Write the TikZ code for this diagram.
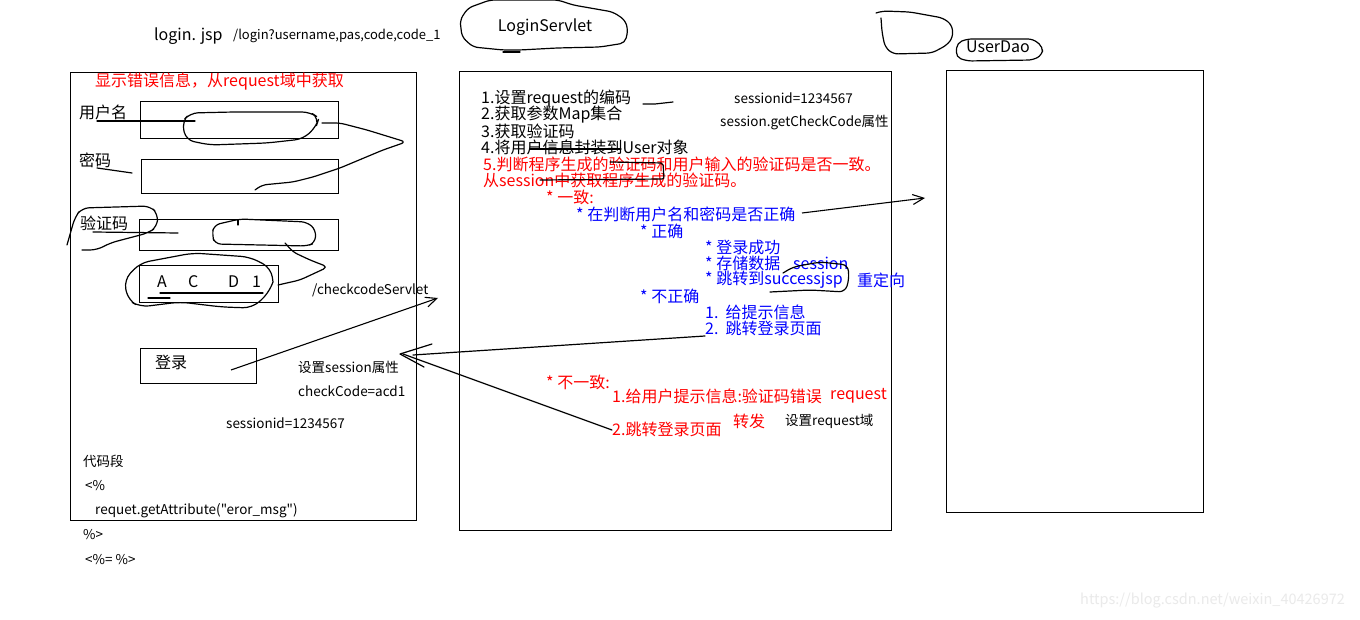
\documentclass[tikz,border=0pt]{standalone}
\usepackage{fontspec}
\newfontfamily\cjk{Noto Sans CJK SC}
\usetikzlibrary{arrows.meta}
\definecolor{pred}{RGB}{255,0,0}
\definecolor{pblue}{RGB}{0,0,255}
\definecolor{wmark}{RGB}{234,234,234}
\begin{document}
\begin{tikzpicture}[x=1pt,y=-1pt,
  frame/.style={draw=black,line width=1pt,anchor=north west,inner sep=0pt},
  sim/.style={font=\cjk\fontsize{16}{17}\selectfont,anchor=west,inner sep=0pt},
  sans/.style={font=\cjk\fontsize{13.5}{15}\selectfont,anchor=west,inner sep=0pt},
  rd/.style={text=pred},
  bl/.style={text=pblue},
  hand/.style={draw=black,line width=1.2pt,line join=round,line cap=round,rounded corners=5pt},
  arr/.style={draw=black,line width=1.1pt,-{Straight Barb[length=11pt,width=10pt,line width=1.1pt]}}]
\useasboundingbox (0,0) rectangle (1360,620);
\fill[white] (0,0) rectangle (1360,620);

% ---------- top labels ----------
\node[sim] (ljsp) at (154,36) {login. jsp};
\node[sans,font=\cjk\fontsize{13}{15}\selectfont] (lurl) at (233,36) {/login?username,pas,code,code\_1};
\node[sim,anchor=center] (lsv) at (545,27) {LoginServlet};
\draw[hand] (462,37) -- (460,20) -- (468,8) -- (490,0) -- (558,0) -- (573,5) -- (613,12) -- (625,20) -- (628,30) -- (625,43) -- (600,47) -- (557,48) -- (520,50) -- (503,50) -- (473,47) -- cycle;
\draw[hand] (503,52) -- (520,52);
\node[sim,anchor=center] (udao) at (998,47) {UserDao};
\draw[hand] (957,43) -- (967,39) -- (1033,39) -- (1043,47) -- (1042,55) -- (1033,60) -- (967,61) -- (956,57) -- cycle;
\draw[hand] (876,13) -- (883,11) -- (910,12) -- (943,18) -- (952,25) -- (953,37) -- (947,45) -- (932,53) -- (893,54) -- (885,47) -- (882,32) -- (881,18);

% ---------- three big boxes ----------
\node[frame,minimum width=346pt,minimum height=448pt] (jsp) at (70,72) {};
\node[frame,minimum width=432pt,minimum height=459pt] (servlet) at (459,71) {};
\node[frame,minimum width=257pt,minimum height=442pt] (dao) at (946,70) {};

% ---------- login.jsp contents ----------
\node[sim,rd] (errmsg) at (95,82) {显示错误信息，从request域中获取};
\node[sim] (lbuser) at (79,112) {用户名};
\node[frame,minimum width=198pt,minimum height=37pt] (inuser) at (140,101) {};
\node[sim] (lbpwd) at (79,160) {密码};
\node[frame,minimum width=197pt,minimum height=34pt] (inpwd) at (141,159) {};
\node[sim] (lbcode) at (80,223) {验证码};
\node[frame,minimum width=199pt,minimum height=31pt] (incode) at (139,219) {};
\node[frame,minimum width=139pt,minimum height=37pt] (captcha) at (139,265) {};
\node[sim] (ca) at (157,282) {A};
\node[sim] (cc) at (188,282) {C};
\node[sim] (cd) at (228,282) {D};
\node[sim] (c1) at (252,282) {1};
\node[sans] (ccs) at (312,290) {/checkcodeServlet};
\node[frame,minimum width=116pt,minimum height=35pt] (btn) at (140,348) {};
\node[sim] (btntxt) at (155,362) {登录};
\node[sans] (setsess) at (298,367) {设置session属性};
\node[sans] (ccval) at (298,391) {checkCode=acd1};
\node[sans] (sid1) at (226,423) {sessionid=1234567};
\node[sans] (dmd) at (83,461) {代码段};
\node[sans] (dm1) at (85,486) {<\%};
\node[sans] (dm2) at (95,511) {requet.getAttribute("eror\_msg")};
\node[sans] (dm3) at (83,535) {\%>};
\node[sans] (dm4) at (85,560) {<\%= \%>};

% freehand marks on the form
\draw[hand] (97,121) -- (195,121);
\draw[hand,rounded corners=8pt] (182,122) -- (190,113) -- (233,112) -- (310,112) -- (319,118) -- (316,127) -- (303,139) -- (267,143) -- (210,145) -- (186,140) -- cycle;
\draw[hand] (322,123) -- (340,123) -- (367,130) -- (406,142) -- (383,150) -- (340,168) -- (313,177) -- (293,182) -- (262,185) -- (255,190);
\draw[hand] (97,168) -- (132,173);
\draw[hand,rounded corners=7pt] (67,245) -- (75,217) -- (82,208) -- (150,206) -- (158,214) -- (157,227) -- (148,233) -- (110,243) -- (97,250) -- (82,250);
\draw[hand] (93,232) -- (178,233);
\draw[hand,rounded corners=6pt] (212,235) -- (214,225) -- (240,219) -- (307,222) -- (316,230) -- (315,243) -- (307,246) -- (215,244) -- cycle;
\draw[hand] (238,220) -- (238,225);
\draw[hand] (285,243) -- (293,252) -- (310,260) -- (328,267) -- (300,280) -- (278,285);
\draw[hand,rounded corners=9pt] (273,282) -- (271,268) -- (250,257) -- (193,253) -- (140,263) -- (124,280) -- (128,300) -- (140,307) -- (180,302) -- (222,307) -- (252,308) -- (268,294) -- (273,282);
\draw[hand] (160,293) -- (263,293);
\draw[hand] (148,298) -- (170,298);

% ---------- LoginServlet contents ----------
\node[sim] (s1) at (481,99)  {1.设置request的编码};
\node[sim] (s2) at (481,115) {2.获取参数Map集合};
\node[sim] (s3) at (481,131) {3.获取验证码};
\node[sim] (s4) at (481,147) {4.将用户信息封装到User对象};
\node[sim,rd] (s5) at (483,164) {5.判断程序生成的验证码和用户输入的验证码是否一致。};
\node[sim,rd] (s5b) at (483,180) {从session中获取程序生成的验证码。};
\node[sans] (sid2) at (734,98) {sessionid=1234567};
\node[sans] (getcc) at (720,123) {session.getCheckCode属性};
\node[sim,rd] (ok) at (546,197) {* 一致:};
\node[sim,bl] (chk) at (576,214) {* 在判断用户名和密码是否正确};
\node[sim,bl] (right) at (640,231) {* 正确};
\node[sim,bl] (r1) at (705,247) {* 登录成功};
\node[sim,bl] (r2) at (705,263) {* 存储数据};
\node[sim,bl] (r2b) at (793,263) {session};
\node[sim,bl] (r3) at (705,280) {* 跳转到successjsp};
\node[sim,bl] (r3b) at (857,280) {重定向};
\node[sim,bl] (wrong) at (640,296) {* 不正确};
\node[sim,bl] (w1) at (705,312) {1.\ \ 给提示信息};
\node[sim,bl] (w2) at (705,328) {2.\ \ 跳转登录页面};
\node[sim,rd] (nok) at (546,382) {* 不一致:};
\node[sim,rd] (n1) at (612,396) {1.给用户提示信息:验证码错误};
\node[sim,rd] (n1b) at (830,396) {request};
\node[sim,rd] (n2) at (612,429) {2.跳转登录页面};
\node[sim,rd] (fwd) at (733,421) {转发};
\node[sans] (setreq) at (785,421) {设置request域};

% freehand marks in the servlet
\draw[hand,rounded corners=0pt] (643,104) -- (655,104) -- (673,102);
\draw[hand] (530,149) -- (621,149);
\draw[hand,rounded corners=2pt] (610,162) -- (663,163) -- (664,179) -- (540,180);
\draw[hand,rounded corners=6pt] (770,292) -- (810,290) -- (845,292) -- (849,280) -- (848,265) -- (820,262) -- (793,267) -- (783,273);

% ---------- connectors ----------
\coordinate (btnpt) at (231,370);
\coordinate (ccstip) at (438,298);
\draw[arr] (btnpt) -- (ccstip);
\coordinate (chkend) at (802,213);
\coordinate (daoin) at (925,198);
\draw[arr] (chkend) -- (daoin);
\coordinate (backtip) at (400,354);
\coordinate (w2start) at (705,336);
\coordinate (n2start) at (612,430);
\draw[hand] (w2start) -- (413,355);
\draw[hand] (n2start) -- (403,354);
\draw[hand,rounded corners=0pt] (432,344) -- (backtip) -- (424,367);

% ---------- watermark ----------
\node[sans,text=wmark,font=\fontsize{14.5}{16}\selectfont\cjk] (wm) at (1080,601) {https://blog.csdn.net/weixin\_40426972};
\end{tikzpicture}
\end{document}
